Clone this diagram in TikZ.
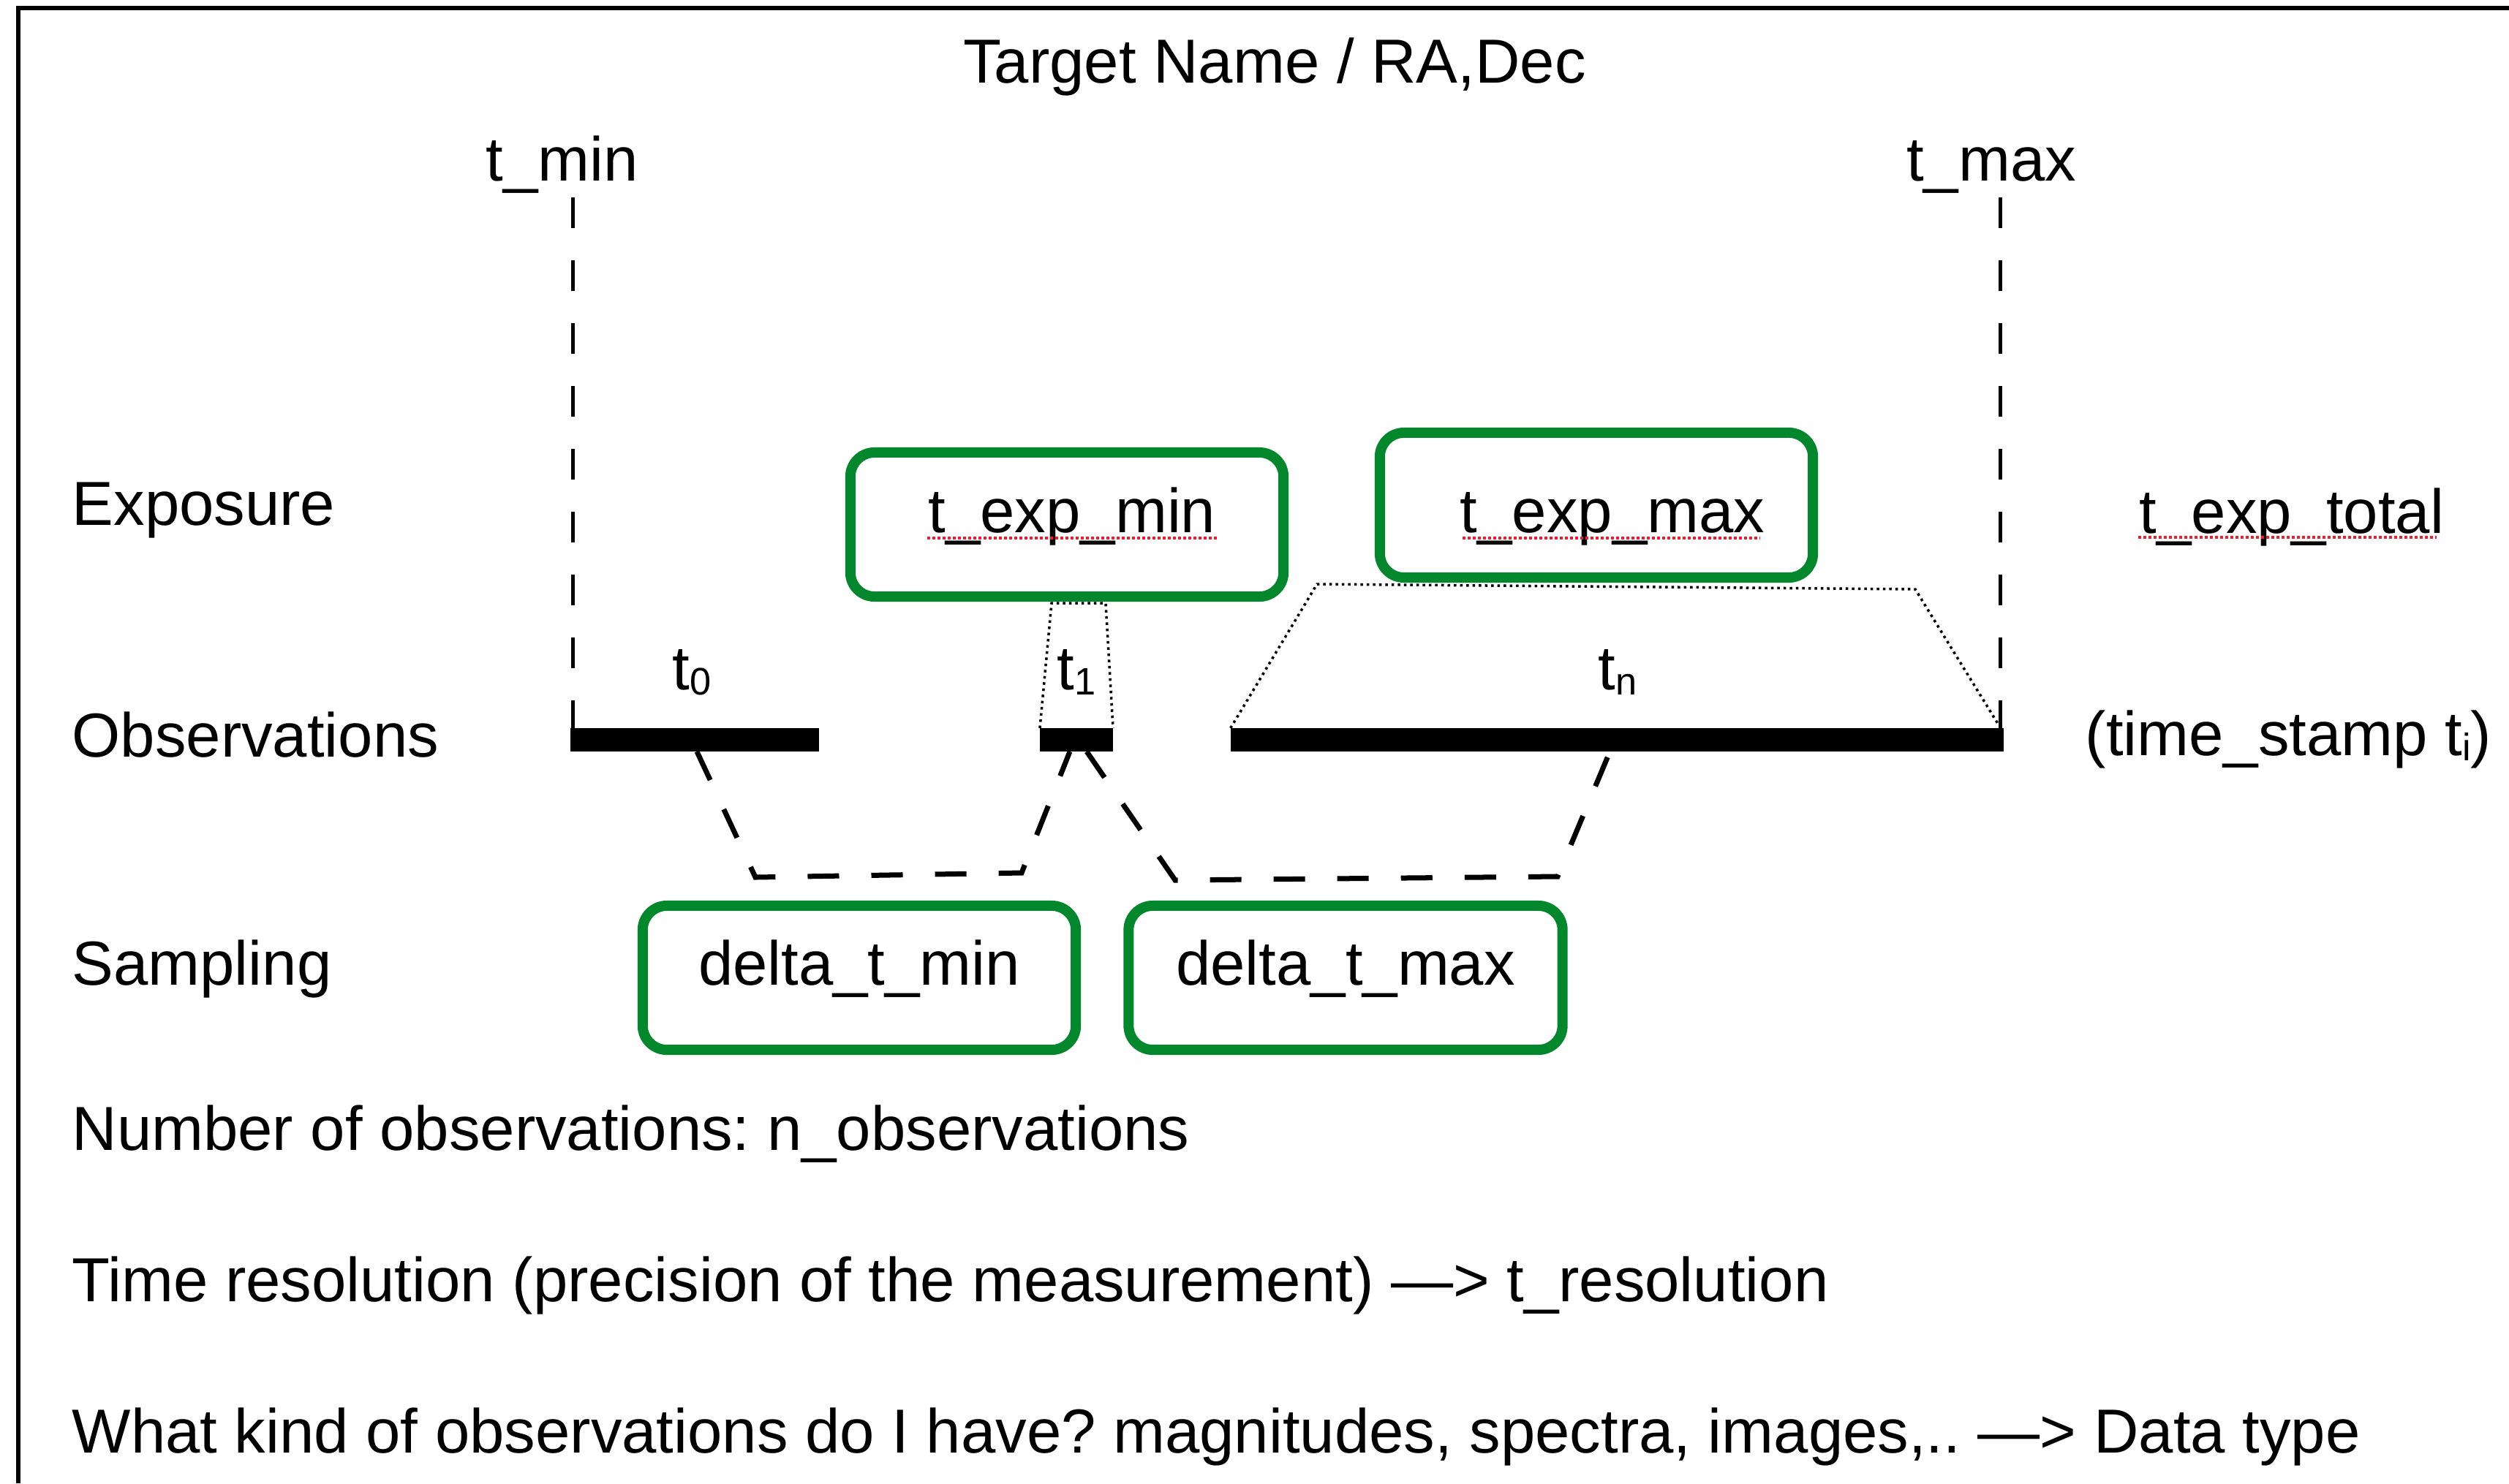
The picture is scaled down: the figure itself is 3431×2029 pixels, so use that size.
\documentclass[tikz,border=0pt]{standalone}
\usepackage{fontspec}
\setmainfont{Liberation Sans}
\usetikzlibrary{calc}
\definecolor{boxgreen}{RGB}{3,135,45}
\definecolor{squigred}{RGB}{235,30,50}
\newcommand\subt[1]{\raisebox{-0.07cm}{\fontsize{14.9pt}{15pt}\selectfont #1}}
\frenchspacing
\begin{document}
\begin{tikzpicture}[x=0.01cm, y=-0.01cm,
  every node/.style={font=\fontsize{24.2pt}{29pt}\selectfont, inner sep=0pt},
  lbl/.style={anchor=base west},
  clbl/.style={anchor=base},
  bar/.style={fill=black, draw=none, minimum height=0.32cm, outer sep=0pt},
  gbox/.style={draw=boxgreen, line width=0.14cm, rounded corners=0.33cm, anchor=base, minimum width=5.92cm},
  vdash/.style={line width=0.05cm, dash pattern=on 0.42cm off 0.44cm},
  sdash/.style={line width=0.07cm, dash pattern=on 0.43cm off 0.44cm},
  dotline/.style={line width=0.035cm, dash pattern=on 0.035cm off 0.05cm},
  squig/.style={draw=squigred, line width=0.045cm, dash pattern=on 0.04cm off 0.03cm}]
\useasboundingbox (0,0) rectangle (3431,2029);
\fill[white] (0,0) rectangle (3431,2029);
% frame
\draw[line width=0.06cm] (25,2029) -- (25,11) -- (3431,11);

% labels
\node[clbl] (title) at (1743,113) {Target Name / RA,Dec};
\node[clbl] (tmin) at (769,247) {t\_min};
\node[clbl] (tmax) at (2723,247) {t\_max};
\node[lbl] (exposure) at (98,718) {Exposure};
\node[lbl] (observations) at (98,1035) {Observations};
\node[lbl] (sampling) at (98,1347) {Sampling};
\node[lbl] (nobs) at (98,1573) {Number of observations: n\_observations};
\node[lbl] (tres) at (98,1780) {Time resolution (precision of the measurement) —> t\_resolution};
\node[lbl] (kind) at (98,1987) {What kind of observations do I have? magnitudes, spectra, images,..\ —> Data type};
\node[lbl] (texptotal) at (2925,729) {t\_exp\_total};
\node[lbl] (tstamp) at (2851,1033) {(time\_stamp t\subt{i})};
\node[lbl] (t0) at (919,943) {t\subt{0}};
\node[lbl] (t1) at (1445,943) {t\subt{1}};
\node[lbl] (tn) at (2185,943) {t\subt{n}};

% green boxes
\node[gbox, text height=1.09cm, text depth=0.88cm] (bexpmin) at (1459,728) {\hspace*{0.14cm}t\_exp\_min};
\node[gbox, text height=1.36cm, text depth=0.62cm] (bexpmax) at (2183,728) {\hspace*{0.44cm}t\_exp\_max};
\node[gbox, text height=1.08cm, text depth=0.89cm] (bdmin) at (1175,1347) {delta\_t\_min};
\node[gbox, text height=1.08cm, text depth=0.89cm, minimum width=5.93cm] (bdmax) at (1840,1347) {delta\_t\_max};

% spell-check underlines
\draw[squig] (1268,736) -- (1664,736);
\draw[squig] (2000,736) -- (2407,736);
\draw[squig] (2924,735) -- (3332,735);

% observation bars
\node[bar, minimum width=3.40cm] (bar0) at (950,1012) {};
\node[bar, minimum width=1.00cm] (bar1) at (1472,1012) {};
\node[bar, minimum width=10.57cm] (barn) at (2211.5,1012) {};

% t_min / t_max dashed verticals
\coordinate (tminTop) at (783,270);
\coordinate (tmaxTop) at (2735,270);
\draw[vdash] (tminTop) -- (tminTop |- bar0.north);
\draw[vdash] (tmaxTop) -- (tmaxTop |- barn.north);

% exposure trapezoids
\coordinate (e1l) at (1438,825);
\coordinate (e1r) at (1512,825);
\draw[dotline] (bar1.north west) -- (e1l) -- (e1r) -- (bar1.north east);
\coordinate (enl) at (1801,799);
\coordinate (enr) at (2619,806);
\draw[dotline] (barn.north west) -- (enl) -- (enr) -- ($(barn.north east)+(-7,-4)$);

% sampling dashed brackets
\coordinate (s1b) at (1033,1200);
\coordinate (s1c) at (1397,1194);
\draw[sdash] ($(bar0.south)+(3,0)$) -- (s1b) -- (s1c) -- ($(bar1.south)+(-9,0)$);
\coordinate (s2b) at (1607,1204);
\coordinate (s2c) at (2130,1199);
\draw[sdash] ($(bar1.south)+(14,0)$) -- (s2b) -- (s2c) -- ($(barn.south)+(-10,0)$);
\end{tikzpicture}
\end{document}
